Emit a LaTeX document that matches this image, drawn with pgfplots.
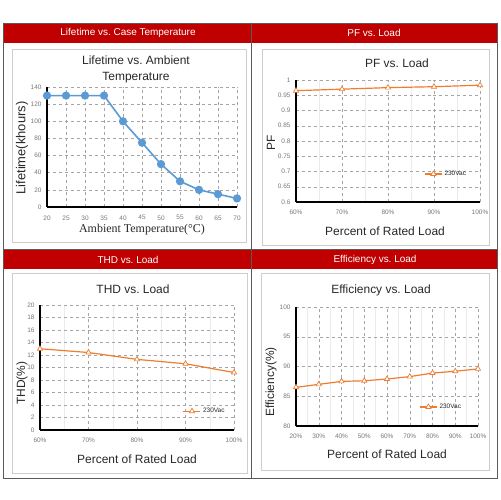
\documentclass[border=0pt]{standalone}
\usepackage{pgfplots}
\pgfplotsset{compat=1.18}
\usepackage{fontspec}
\setmainfont{Liberation Sans}
\newfontfamily\timesfont{Liberation Serif}

\definecolor{hdrred}{RGB}{192,0,0}
\definecolor{lineblue}{RGB}{91,155,213}
\definecolor{lineorange}{RGB}{237,125,49}
\definecolor{tickgray}{RGB}{120,120,120}
\definecolor{gridgray}{RGB}{165,165,165}
\definecolor{boxgray}{RGB}{205,205,205}
\definecolor{framegray}{RGB}{90,90,90}
\definecolor{textdark}{RGB}{40,40,40}

\pgfplotsset{
  panel/.style={
    scale only axis,
    axis x line*=bottom, axis y line*=left,
    axis line style={black, line width=1.4pt, -},
    xmajorgrids, ymajorgrids,
    major grid style={gridgray, dashed, line width=0.5pt},
    minor grid style={black!8, line width=0.5pt},
    major tick length=0pt, minor tick length=0pt,
    tick style={draw=none},
    ticklabel style={font=\fontsize{6.5}{7}\selectfont, text=tickgray},
    xticklabel style={yshift=-4bp},
    yticklabel style={xshift=-2bp},
    /pgf/number format/assume math mode=true,
    clip=false,
    legend style={draw=none, fill=none, font=\fontsize{6.5}{7}\selectfont, text=textdark, anchor=west},
    legend cell align=left,
  },
  load/.style={
    xticklabel={\pgfmathprintnumber{\tick}\%},
    minor x tick num=1, xminorgrids,
  },
  orange/.style={lineorange, line width=1.2pt, mark=triangle*, mark size=3pt,
    mark options={fill=white, draw=lineorange, line width=0.7pt, solid}},
}

\begin{document}
\begin{tikzpicture}
\begin{scope}[x=1bp,y=-1bp]
\fill[white] (0,0) rectangle (500,500);
\useasboundingbox (0,0) rectangle (500,500);
% headers
\fill[hdrred] (3,23) rectangle (497,43);
\fill[hdrred] (3,250) rectangle (497,269);
\draw[framegray, line width=0.8pt] (3,23) rectangle (497,478);
\draw[framegray, line width=0.8pt] (251,23) -- (251,478);
\draw[framegray, line width=0.8pt] (3,249) -- (497,249);
\begin{scope}[font=\fontsize{10}{12}\selectfont, text=white]
\node at (128,33) {Lifetime vs.\ Case Temperature};
\node at (374,33) {PF vs.\ Load};
\node at (128,259.5) {THD vs.\ Load};
\node at (375,259.5) {Efficiency vs.\ Load};
\end{scope}
% inner boxes
\draw[boxgray, line width=0.8pt] (12,49) rectangle (246,242);
\draw[boxgray, line width=0.8pt] (262,49) rectangle (489,245);
\draw[boxgray, line width=0.8pt] (12,273) rectangle (247,473);
\draw[boxgray, line width=0.8pt] (261,273) rectangle (489,470);
% titles and axis labels
\begin{scope}[font=\fontsize{12}{16}\selectfont, text=textdark]
\node[align=center] at (136,69) {Lifetime vs.\ Ambient\\Temperature};
\node at (397,63) {PF vs.\ Load};
\node at (133,289) {THD vs.\ Load};
\node at (381,290) {Efficiency vs.\ Load};
\node at (385,231) {Percent of Rated Load};
\node at (137,459) {Percent of Rated Load};
\node at (387,454) {Percent of Rated Load};
\node[rotate=90] at (271,143) {PF};
\node[rotate=90] at (22,383) {THD(\%)};
\node[rotate=90] at (271,382) {Efficiency(\%)};
\node[font=\fontsize{13}{15}\selectfont, rotate=90] at (22,148) {Lifetime(khours)};
\node[font=\timesfont\fontsize{12}{14}\selectfont] at (142,230) {Ambient Temperature(°C)};
\end{scope}
\end{scope}

% Lifetime vs. ambient temperature
\begin{axis}[panel, at={(47bp,-207bp)}, anchor=south west,
  width=190bp, height=120bp,
  xmin=20, xmax=70, ymin=0, ymax=140,
  xtick={20,25,...,70}, ytick={0,20,...,140},
  xticklabel style={yshift=-1bp}]
\addplot[lineblue, line width=1.6pt, mark=*, mark size=3.3pt,
  mark options={fill=lineblue, draw=lineblue}] coordinates {
  (20,130) (25,130) (30,130) (35,130) (40,100) (45,75)
  (50,50) (55,30) (60,20) (65,15) (70,10)};
\end{axis}

% PF vs. load
\begin{axis}[panel, load, at={(296bp,-202bp)}, anchor=south west,
  width=184bp, height=122bp,
  xmin=60, xmax=100, ymin=0.6, ymax=1,
  xtick={60,70,80,90,100},
  ytick={0.6,0.65,0.7,0.75,0.8,0.85,0.9,0.95,1},
  yticklabel style={/pgf/number format/fixed},
  legend style={at={(0.68,0.23)}}]
\addplot[orange] coordinates {
  (60,0.965) (70,0.970) (80,0.975) (90,0.978) (100,0.983)};
\addlegendentry{230Vac}
\end{axis}

% THD vs. load
\begin{axis}[panel, load, at={(40bp,-430bp)}, anchor=south west,
  width=194bp, height=125bp,
  xmin=60, xmax=100, ymin=0, ymax=20,
  xtick={60,70,80,90,100}, ytick={0,2,...,20},
  legend style={at={(0.72,0.15)}}]
\addplot[orange] coordinates {
  (60,13.0) (70,12.4) (80,11.3) (90,10.6) (100,9.2)};
\addlegendentry{230Vac}
\end{axis}

% Efficiency vs. load
\begin{axis}[panel, load, at={(296bp,-426bp)}, anchor=south west,
  width=182bp, height=119bp,
  xmin=20, xmax=100, ymin=80, ymax=100,
  xtick={20,30,...,100}, ytick={80,85,...,100},
  legend style={at={(0.66,0.16)}}]
\addplot[orange] coordinates {
  (20,86.5) (30,87.0) (40,87.5) (50,87.6) (60,87.9)
  (70,88.3) (80,88.9) (90,89.2) (100,89.6)};
\addlegendentry{230Vac}
\end{axis}
\end{tikzpicture}
\end{document}
